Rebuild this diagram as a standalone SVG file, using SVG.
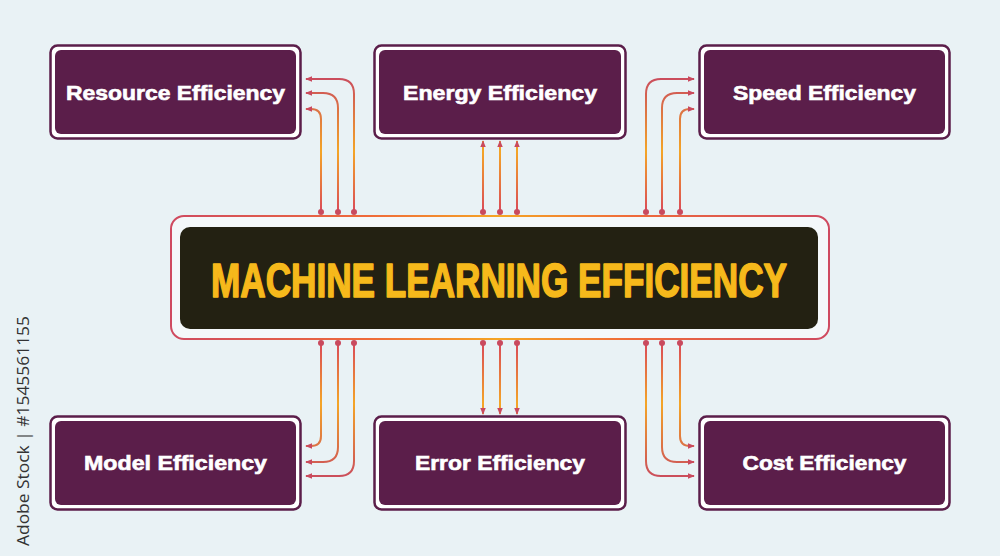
<svg xmlns="http://www.w3.org/2000/svg" width="1000" height="556" viewBox="0 0 1000 556">
<defs>
<linearGradient id="gTop" gradientUnits="userSpaceOnUse" x1="0" y1="76" x2="0" y2="214">
<stop offset="0" stop-color="#c94a5e"/><stop offset="0.55" stop-color="#f4a526"/><stop offset="1" stop-color="#d9465a"/>
</linearGradient>
<linearGradient id="gBot" gradientUnits="userSpaceOnUse" x1="0" y1="341" x2="0" y2="480">
<stop offset="0" stop-color="#d9465a"/><stop offset="0.45" stop-color="#f4a526"/><stop offset="1" stop-color="#c94a5e"/>
</linearGradient>
<linearGradient id="gMid" gradientUnits="userSpaceOnUse" x1="171" y1="0" x2="829" y2="0">
<stop offset="0" stop-color="#cf4a60"/><stop offset="0.3" stop-color="#ef6a3a"/><stop offset="0.5" stop-color="#f5a524"/><stop offset="0.7" stop-color="#ef6a3a"/><stop offset="1" stop-color="#cf4a60"/>
</linearGradient>
<marker id="arr" viewBox="0 0 8 8" refX="7" refY="4" markerWidth="7" markerHeight="7" markerUnits="userSpaceOnUse" orient="auto">
<path d="M0,0.8 L8,4 L0,7.2 Z" fill="#c94a5e"/>
</marker>
<marker id="dot" viewBox="0 0 6 6" refX="3" refY="3" markerWidth="6" markerHeight="6" markerUnits="userSpaceOnUse">
<circle cx="3" cy="3" r="3" fill="#c94a5e"/>
</marker>
</defs>
<style>
.frame{fill:#ffffff;stroke:#5b1e4a;stroke-width:2.5}
.inner{fill:#5b1e4a}
.lbl{font-family:"Liberation Sans",Arial,sans-serif;font-weight:bold;font-size:20px;fill:#ffffff;stroke:#ffffff;stroke-width:0.6;text-anchor:middle}
.ct{fill:none;stroke:url(#gTop);stroke-width:2;marker-start:url(#dot);marker-end:url(#arr)}
.cb{fill:none;stroke:url(#gBot);stroke-width:2;marker-start:url(#dot);marker-end:url(#arr)}
</style>
<rect x="0" y="0" width="1000" height="556" fill="#e9f2f5"/>

<g id="center">
<rect x="171" y="216" width="658" height="123" rx="13" fill="#f4f8fa" stroke="url(#gMid)" stroke-width="2"/>
<rect x="180" y="227" width="638" height="102" rx="10" fill="#232112"/>
<text x="499" y="297" font-family="'Liberation Sans',Arial,sans-serif" font-weight="bold" font-size="48" fill="#f6b91b" stroke="#f6b91b" stroke-width="1.6" stroke-linejoin="round" text-anchor="middle" textLength="576" lengthAdjust="spacingAndGlyphs">MACHINE LEARNING EFFICIENCY</text>
</g>

<g id="resource">
<rect class="frame" x="50.5" y="45.5" width="250" height="93" rx="7"/>
<rect class="inner" x="55" y="50" width="241" height="84" rx="6"/>
<text class="lbl" x="175.5" y="100" textLength="219" lengthAdjust="spacingAndGlyphs">Resource Efficiency</text>
</g>
<g id="energy">
<rect class="frame" x="374.5" y="45.5" width="251" height="93" rx="7"/>
<rect class="inner" x="379" y="50" width="242" height="84" rx="6"/>
<text class="lbl" x="500" y="100" textLength="194" lengthAdjust="spacingAndGlyphs">Energy Efficiency</text>
</g>
<g id="speed">
<rect class="frame" x="699.5" y="45.5" width="250" height="93" rx="7"/>
<rect class="inner" x="704" y="50" width="241" height="84" rx="6"/>
<text class="lbl" x="824.5" y="100" textLength="183" lengthAdjust="spacingAndGlyphs">Speed Efficiency</text>
</g>
<g id="model">
<rect class="frame" x="50.5" y="416.5" width="250" height="93" rx="7"/>
<rect class="inner" x="55" y="421" width="241" height="84" rx="6"/>
<text class="lbl" x="175.5" y="470" textLength="183" lengthAdjust="spacingAndGlyphs">Model Efficiency</text>
</g>
<g id="error">
<rect class="frame" x="374.5" y="416.5" width="251" height="93" rx="7"/>
<rect class="inner" x="379" y="421" width="242" height="84" rx="6"/>
<text class="lbl" x="500" y="470" textLength="170" lengthAdjust="spacingAndGlyphs">Error Efficiency</text>
</g>
<g id="cost">
<rect class="frame" x="699.5" y="416.5" width="250" height="93" rx="7"/>
<rect class="inner" x="704" y="421" width="241" height="84" rx="6"/>
<text class="lbl" x="824.5" y="470" textLength="164" lengthAdjust="spacingAndGlyphs">Cost Efficiency</text>
</g>

<g id="connectors">
<path class="ct" d="M354 212 V94 Q354 79 339 79 H306"/>
<path class="ct" d="M338 212 V108 Q338 93 323 93 H306"/>
<path class="ct" d="M321 212 V119 Q321 109 311 109 H306"/>
<path class="ct" d="M483 212 V141"/>
<path class="ct" d="M500 212 V141"/>
<path class="ct" d="M517 212 V141"/>
<path class="ct" d="M646 212 V94 Q646 79 661 79 H694"/>
<path class="ct" d="M662 212 V108 Q662 93 677 93 H694"/>
<path class="ct" d="M680 212 V119 Q680 109 690 109 H694"/>
<path class="cb" d="M321 343 V436 Q321 446 311 446 H306"/>
<path class="cb" d="M338 343 V447 Q338 462 323 462 H306"/>
<path class="cb" d="M354 343 V461 Q354 476 339 476 H306"/>
<path class="cb" d="M483 343 V414"/>
<path class="cb" d="M500 343 V414"/>
<path class="cb" d="M517 343 V414"/>
<path class="cb" d="M680 343 V436 Q680 446 690 446 H694"/>
<path class="cb" d="M662 343 V447 Q662 462 677 462 H694"/>
<path class="cb" d="M646 343 V461 Q646 476 661 476 H694"/>
</g>

<text x="0" y="0" transform="translate(29 546) rotate(-90)" font-family="'Open Sans','Liberation Sans',sans-serif" font-size="16" fill="#333333" textLength="230" lengthAdjust="spacingAndGlyphs">Adobe Stock | #1545561155</text>
</svg>
